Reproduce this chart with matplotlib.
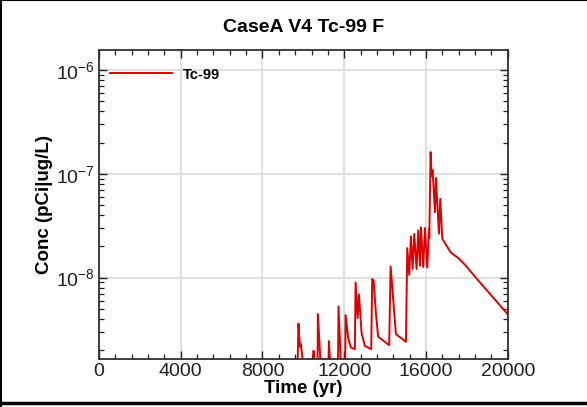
import numpy as np
import matplotlib
matplotlib.use("Agg")
import matplotlib.pyplot as plt
import matplotlib.ticker as mticker
from matplotlib.lines import Line2D

plt.rcParams['font.family'] = ['Liberation Sans', 'DejaVu Sans']
plt.rcParams['mathtext.fontset'] = 'custom'
plt.rcParams['mathtext.rm'] = 'Liberation Sans'

# Tc-99 concentration history (values below the axis floor are clipped)
time_yr = [9700, 9760, 9830, 9870, 9920, 10080, 10470, 10500, 10560, 10690,
           10710, 10890, 11220, 11250, 11360, 11690, 11720, 11870, 12040, 12065,
           12195, 12325, 12520, 12555, 12655, 12718, 12850, 13010, 13320, 13370,
           13440, 13550, 13660, 14200, 14270, 14530, 15020, 15085, 15182, 15264,
           15346, 15427, 15541, 15623, 15705, 15754, 15868, 15950, 16064, 16146,
           16162, 16227, 16276, 16325, 16439, 16488, 16635, 16700, 16798, 17207,
           17582, 17908, 18512, 20000]
conc = [1.0e-9, 3.6e-9, 2.15e-9, 2.3e-9, 1.95e-9, 1.0e-9, 1.0e-9, 1.97e-9, 1.0e-9, 1.0e-9,
        4.45e-9, 1.0e-9, 1.0e-9, 2.44e-9, 1.0e-9, 1.0e-9, 5.25e-9, 1.0e-9, 1.0e-9, 4.36e-9,
        2.6e-9, 2.12e-9, 2.04e-9, 8.95e-9, 4.05e-9, 6.9e-9, 2.9e-9, 2.19e-9, 2.04e-9, 9.66e-9,
        9.3e-9, 4.53e-9, 2.69e-9, 2.23e-9, 1.28e-8, 2.85e-9, 2.40e-9, 1.92e-8, 1.06e-8, 2.49e-8,
        1.21e-8, 2.63e-8, 1.21e-8, 2.85e-8, 1.30e-8, 3.05e-8, 1.26e-8, 3.0e-8, 1.25e-8, 2.94e-8,
        2.40e-8, 1.62e-7, 9.5e-8, 1.08e-7, 4.26e-8, 9.14e-8, 2.65e-8, 5.73e-8, 2.37e-8, 1.75e-8,
        1.54e-8, 1.33e-8, 9.6e-9, 4.43e-9]

fig = plt.figure(figsize=(5.87, 4.07), dpi=100)
ax = fig.add_axes([0.1687, 0.1179, 0.6962, 0.7592])

ax.plot(time_yr, conc, color="#dd0000", linewidth=1.4, label="Tc-99")

ax.set_yscale("log")
ax.set_xlim(0, 20000)
ax.set_ylim(1.64e-9, 1.56e-6)

ax.xaxis.set_major_locator(mticker.MultipleLocator(4000))
ax.xaxis.set_minor_locator(mticker.MultipleLocator(800))
ax.yaxis.set_major_locator(mticker.LogLocator(base=10, numticks=10))
ax.yaxis.set_minor_locator(mticker.LogLocator(base=10, subs=np.arange(2, 10), numticks=20))
ax.yaxis.set_minor_formatter(mticker.NullFormatter())

ax.grid(True, which="major", color="#d9d9d9", linewidth=1.2)
ax.set_axisbelow(True)

ax.tick_params(which="both", direction="in", top=True, right=True, colors="#202020")
ax.tick_params(which="major", length=6, width=1.0, labelsize=14, pad=3)
ax.tick_params(which="minor", length=3.5, width=0.9)
for sp in ax.spines.values():
    sp.set_linewidth(1.3)
    sp.set_color("#303030")

ax.set_title("CaseA V4 Tc-99 F", fontsize=14, fontweight="bold", pad=13)
ax.set_xlabel("Time (yr)", fontsize=13.5, fontweight="bold", labelpad=0)
ax.set_ylabel("Conc (pCi|ug/L)", fontsize=13.5, fontweight="bold", labelpad=2)

leg = ax.legend(loc="upper left", bbox_to_anchor=(-0.017, 1.0), frameon=False,
                handlelength=4.3, prop={"size": 10.5, "weight": "bold"},
                borderaxespad=0.8, handletextpad=0.7)

# figure frame (left, top, bottom)
fig.add_artist(Line2D([0.001, 0.001], [0, 1], transform=fig.transFigure, color="black", linewidth=1.5))
fig.add_artist(Line2D([0, 1], [0.999, 0.999], transform=fig.transFigure, color="black", linewidth=1.5))
fig.add_artist(Line2D([0, 1], [0.009, 0.009], transform=fig.transFigure, color="black", linewidth=2.5))

fig.savefig("out.png", dpi=100)
